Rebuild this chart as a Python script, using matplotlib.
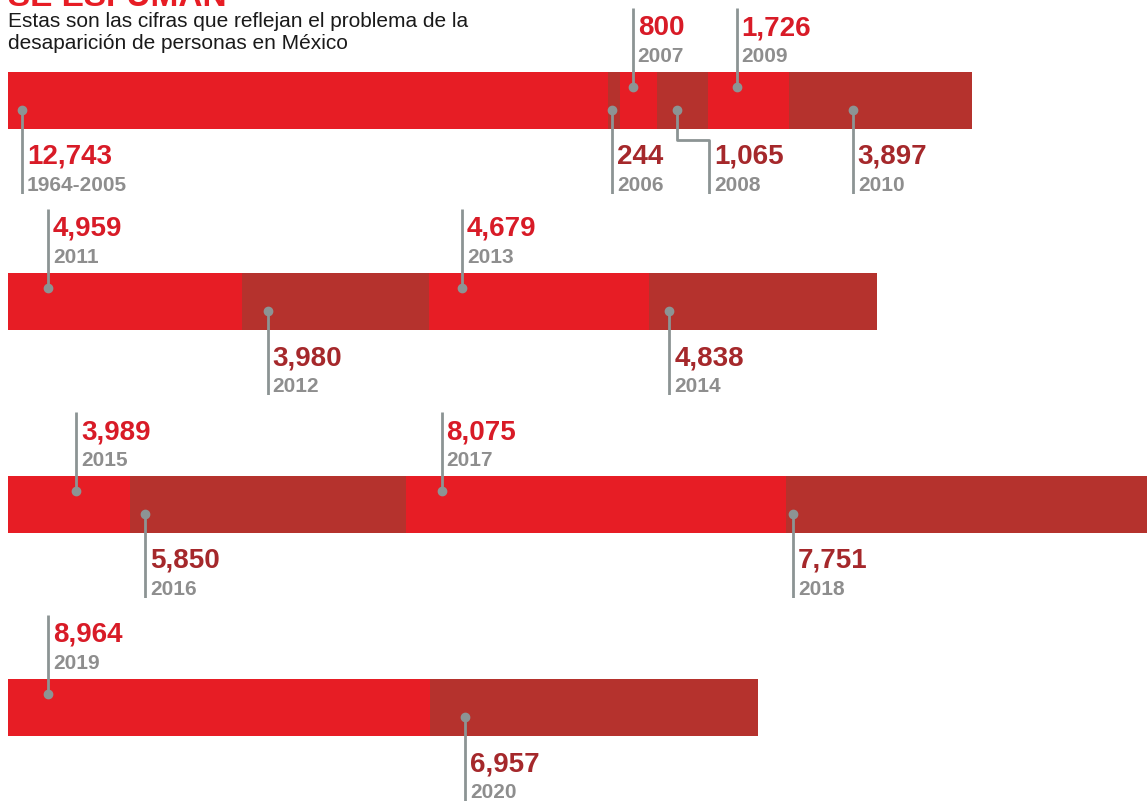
import matplotlib
matplotlib.use('Agg')
import matplotlib.pyplot as plt

plt.rcParams['font.family'] = ['Liberation Sans', 'DejaVu Sans']

# datos: personas desaparecidas por año
row1_years = ['1964-2005', '2006', '2007', '2008', '2009', '2010']
row1_vals = [12743, 244, 800, 1065, 1726, 3897]
row2_years = ['2011', '2012', '2013', '2014']
row2_vals = [4959, 3980, 4679, 4838]
row3_years = ['2015', '2016', '2017', '2018']
row3_vals = [3989, 5850, 8075, 7751]
row4_years = ['2019', '2020']
row4_vals = [8964, 6957]

# lado de la etiqueta (arriba / abajo) y desplazamiento del pin en px
row1_side = ['down', 'down', 'up', 'down', 'up', 'down']
row2_side = ['up', 'down', 'up', 'down']
row3_side = ['up', 'down', 'up', 'down']
row4_side = ['up', 'down']
row1_pin = [14, 4, 13, 20, 29, 64]
row2_pin = [40, 26, 33, 20]
row3_pin = [134, 15, 36, 7]
row4_pin = [40, 35]

rows = [
    (row1_years, row1_vals, row1_side, row1_pin, 72, 0),
    (row2_years, row2_vals, row2_side, row2_pin, 273, 0),
    (row3_years, row3_vals, row3_side, row3_pin, 476, 1399),
    (row4_years, row4_vals, row4_side, row4_pin, 679, 0),
]

RED = '#e71d25'
DARK = '#b5322d'
RED_TXT = '#d81b27'
DARK_TXT = '#a5282b'
GRAY = '#8e8e8e'
PIN = '#8c9494'

W, H = 1147, 802
k = 0.0471          # px por persona
fig = plt.figure(figsize=(W / 100, H / 100), dpi=100)
fig.patch.set_facecolor('white')

# encabezado (cortado arriba, como en el original)
fig.text(8 / W, 1 - 6 / H, 'SE ESFUMAN', fontsize=24, fontweight='bold',
         color=RED, ha='left', va='baseline')
fig.text(8 / W, 1 - 12 / H,
         'Estas son las cifras que reflejan el problema de la\n'
         'desaparición de personas en México',
         fontsize=15, color='#1a1a1a', ha='left', va='top', linespacing=1.2)

top_pad, bot_pad = 64, 122
for years, vals, sides, pins, bar_top, x0 in rows:
    band_top = bar_top - top_pad
    band_h = top_pad + bot_pad
    ax = fig.add_axes([8 / W, 1 - (band_top + band_h) / H, (W - 8) / W, band_h / H])
    ax.set_xlim(x0, x0 + (W - 8) / k)
    ax.set_ylim(bot_pad, -top_pad)
    ax.axis('off')

    left = 0
    for i, (yr, v, side, pin) in enumerate(zip(years, vals, sides, pins)):
        col = RED if i % 2 == 0 else DARK
        tcol = RED_TXT if i % 2 == 0 else DARK_TXT
        ax.barh(28.5, v, left=left, height=57, color=col, edgecolor='none')
        px = left + pin / k
        if side == 'up':
            ax.plot([px, px], [15, -top_pad], color=PIN, lw=2, solid_capstyle='butt')
            ax.plot(px, 15, 'o', color=PIN, ms=6)
            tx = px + 5 / k
            ax.text(tx, -57, f'{v:,}', fontsize=20, fontweight='bold', color=tcol,
                    ha='left', va='top', clip_on=False)
            ax.text(tx, -25, yr, fontsize=15, fontweight='bold', color=GRAY,
                    ha='left', va='top', clip_on=False)
        else:
            if yr == '2008':
                # conector en codo
                ex = px + 32 / k
                ax.plot([px, px, ex, ex], [38, 68, 68, bot_pad], color=PIN, lw=2)
                lx = ex
            else:
                ax.plot([px, px], [38, bot_pad], color=PIN, lw=2, solid_capstyle='butt')
                lx = px
            ax.plot(px, 38, 'o', color=PIN, ms=6)
            tx = lx + 5 / k
            ax.text(tx, 72, f'{v:,}', fontsize=20, fontweight='bold', color=tcol,
                    ha='left', va='top', clip_on=False)
            ax.text(tx, 104, yr, fontsize=15, fontweight='bold', color=GRAY,
                    ha='left', va='top', clip_on=False)
        left += v

fig.savefig('out.png', dpi=100, facecolor='white')
